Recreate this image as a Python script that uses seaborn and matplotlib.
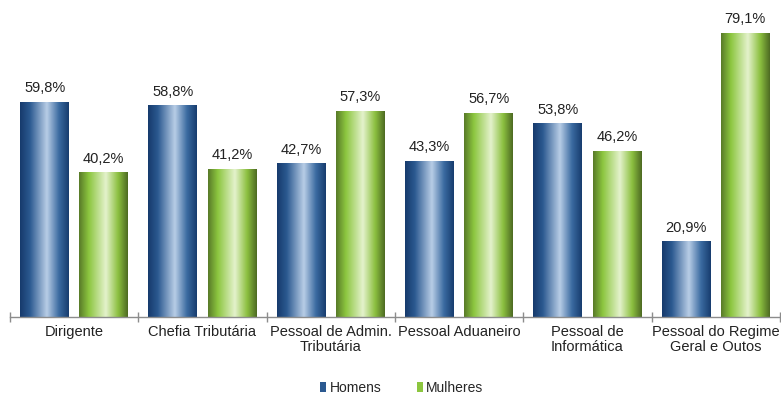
import numpy as np
import pandas as pd
import matplotlib
matplotlib.use("Agg")
import matplotlib.pyplot as plt
from matplotlib.colors import LinearSegmentedColormap
import seaborn as sns

categories = ["Dirigente", "Chefia Tributária", "Pessoal de Admin.\nTributária",
              "Pessoal Aduaneiro", "Pessoal de\nInformática",
              "Pessoal do Regime\nGeral e Outos"]
homens = [59.8, 58.8, 42.7, 43.3, 53.8, 20.9]
mulheres = [40.2, 41.2, 57.3, 56.7, 46.2, 79.1]
series = ["Homens", "Mulheres"]

df = pd.DataFrame({
    "categoria": categories * 2,
    "valor": homens + mulheres,
    "sexo": [series[0]] * len(categories) + [series[1]] * len(categories),
})

# cylinder-style shading, dark edges and a bright centre
blue_cmap = LinearSegmentedColormap.from_list("blue_cyl", [
    (0.0, "#163a6c"), (0.2, "#2b5990"), (0.55, "#b8cde6"),
    (0.8, "#3a6aa0"), (1.0, "#173c6e")])
green_cmap = LinearSegmentedColormap.from_list("green_cyl", [
    (0.0, "#587a28"), (0.2, "#8cc63f"), (0.55, "#e4f2cc"),
    (0.8, "#8cc040"), (1.0, "#4d6a22")])
palette = {"Homens": "#2b5990", "Mulheres": "#8cc63f"}
cmaps = {"Homens": blue_cmap, "Mulheres": green_cmap}

sns.set_style("white")
plt.rcParams["font.family"] = ["Liberation Sans", "DejaVu Sans"]

fig = plt.figure(figsize=(7.81, 3.94), dpi=100)
ax = fig.add_axes([10 / 781, 77 / 394, 770 / 781, 317 / 394])

sns.barplot(data=df, x="categoria", y="valor", hue="sexo", order=categories,
            hue_order=series, palette=palette, width=0.92, gap=0.17,
            ax=ax, legend=False, saturation=1)

grad = np.linspace(0, 1, 256).reshape(1, -1)
for container, name in zip(ax.containers, series):
    for bar, val in zip(container, container.datavalues):
        x0, y0 = bar.get_x(), bar.get_y()
        w, h = bar.get_width(), bar.get_height()
        bar.set_facecolor("none")
        bar.set_edgecolor("none")
        ax.imshow(grad, cmap=cmaps[name], aspect="auto",
                  extent=[x0, x0 + w, y0, y0 + h], zorder=2,
                  interpolation="bilinear")
        ax.text(x0 + w / 2, y0 + h + 2.0, f"{val:.1f}%".replace(".", ","),
                ha="center", va="bottom", fontsize=10.5, color="#222222")

ax.set_xlim(-0.5, len(categories) - 0.5)
ax.set_ylim(0, 88.3)

for s in ["top", "right", "left"]:
    ax.spines[s].set_visible(False)
ax.spines["bottom"].set_color("#8c8c8c")
ax.spines["bottom"].set_linewidth(1)
ax.set_yticks([])
ax.set_xlabel("")
ax.set_ylabel("")

ax.set_xticks(range(len(categories)))
ax.set_xticklabels(categories, fontsize=10.5, color="#222222", linespacing=1.1)
ax.tick_params(axis="x", which="major", bottom=True, length=0, pad=6)
ax.set_xticks(np.arange(-0.5, len(categories), 1.0), minor=True)
ax.tick_params(axis="x", which="minor", bottom=True, length=7, direction="inout",
               color="#8c8c8c", width=1)

handles = [plt.Rectangle((0, 0), 1, 1, facecolor=palette[s], edgecolor="none")
           for s in series]
fig.legend(handles, series, loc="center", bbox_to_anchor=(402 / 781, 1 - 388 / 394),
           ncol=2, frameon=False, fontsize=10, handlelength=0.4, handleheight=0.7,
           handletextpad=0.25, columnspacing=2.6)

fig.savefig("out.png", dpi=100)
